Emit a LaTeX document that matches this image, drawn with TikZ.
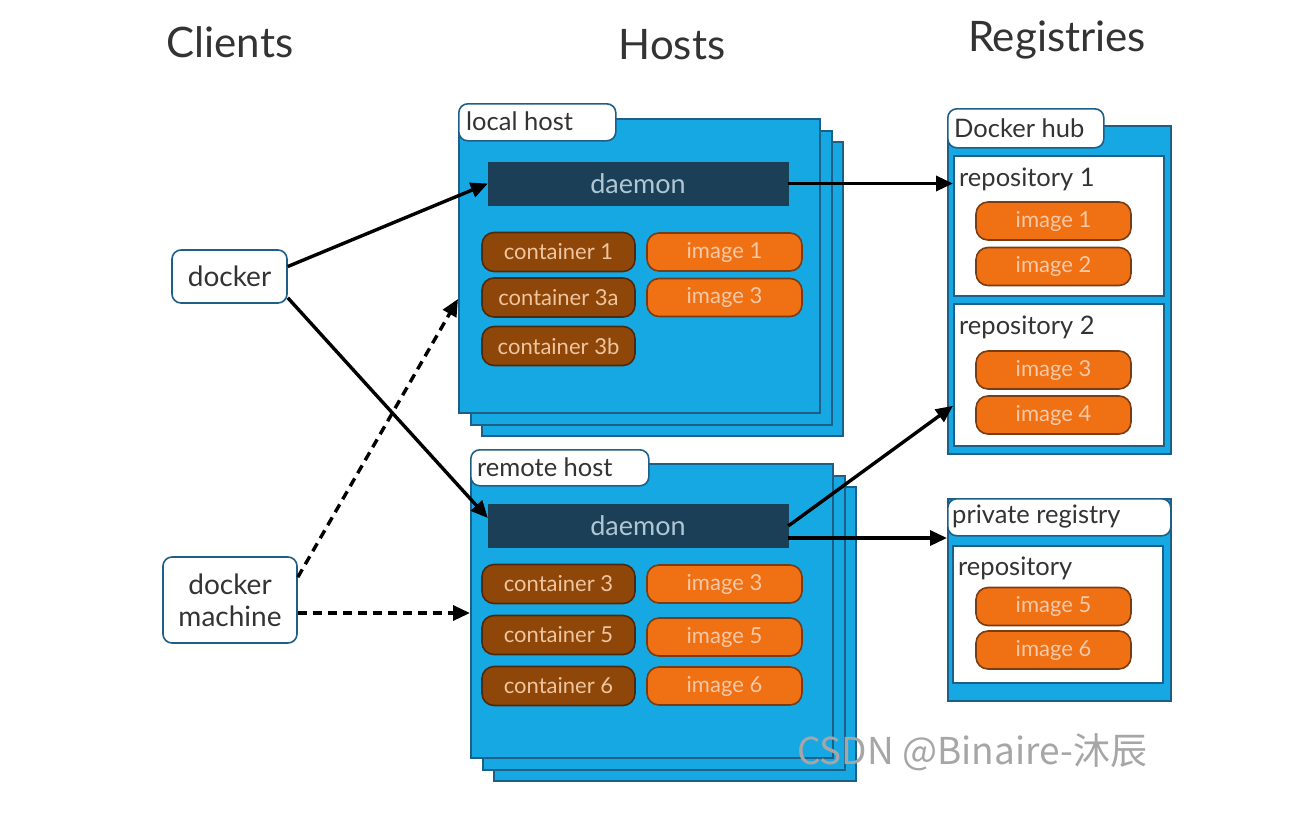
\documentclass[tikz,border=0pt]{standalone}
\usepackage{fontspec}
\setmainfont{Lato}
\newfontfamily\cjkfont{Noto Sans CJK SC}
\usetikzlibrary{arrows.meta}
\definecolor{hostblue}{HTML}{16A8E3}
\definecolor{hostedge}{HTML}{1D5F86}
\definecolor{daemonfill}{HTML}{1B3F56}
\definecolor{daemontext}{HTML}{AFC6D4}
\definecolor{contfill}{HTML}{8E4708}
\definecolor{contedge}{HTML}{4C2A10}
\definecolor{conttext}{HTML}{EFC5A0}
\definecolor{imgfill}{HTML}{F07014}
\definecolor{imgedge}{HTML}{7A3C12}
\definecolor{imgtext}{HTML}{F8C9A8}
\definecolor{labeltext}{HTML}{333333}
\tikzset{
  hostbox/.style={draw=hostedge, fill=hostblue, line width=2pt, anchor=north west, inner sep=0pt},
  tagbox/.style={draw=hostedge, fill=white, line width=1.6pt, rounded corners=9pt, anchor=north west, inner sep=0pt},
  daemonbox/.style={fill=daemonfill, draw=daemonfill, minimum width=300pt, minimum height=43pt, inner sep=0pt, text=daemontext, font=\fontsize{27}{30}\selectfont},
  contbox/.style={fill=contfill, draw=contedge, line width=1.6pt, rounded corners=12pt, minimum width=153pt, minimum height=39pt, inner sep=0pt, text=conttext, font=\fontsize{22}{24}\selectfont},
  imgbox/.style={fill=imgfill, draw=imgedge, line width=1.6pt, rounded corners=12pt, minimum width=155pt, minimum height=38pt, inner sep=0pt, text=imgtext, font=\fontsize{22}{24}\selectfont},
  repobox/.style={fill=white, draw=hostedge, line width=1.6pt, anchor=north west, inner sep=0pt},
  clientbox/.style={fill=white, draw=hostedge, line width=1.6pt, rounded corners=9pt, inner sep=0pt, align=center, text=labeltext, font=\fontsize{28}{32}\selectfont},
  title/.style={text=labeltext, font=\fontsize{42}{48}\selectfont},
  plain/.style={text=labeltext, anchor=west, inner sep=0pt, font=\fontsize{25.5}{28}\selectfont},
  arr/.style={line width=3.4pt, -{Triangle[length=17pt,width=15pt]}},
  darr/.style={arr, dash pattern=on 9pt off 6pt},
}
\begin{document}
\begin{tikzpicture}[x=1pt,y=-1pt]
\useasboundingbox (0,0) rectangle (1306,825);
\fill[white] (0,0) rectangle (1306,825);

% titles
\node[title] (tclients) at (230,42) {Clients};
\node[title] (thosts) at (672,45) {Hosts};
\node[title] (tregs) at (1057,40) {Registries};

% local host stack
\node[hostbox, minimum width=361pt, minimum height=294pt] (lh3) at (481,141) {};
\node[hostbox, minimum width=361pt, minimum height=294pt] (lh2) at (469.5,129.5) {};
\node[hostbox, minimum width=361pt, minimum height=294pt] (lh1) at (458,118) {};
\node[tagbox, minimum width=157pt, minimum height=37pt] (lhtag) at (458,103) {};
\node[plain] (lhtxt) at (466,121) {local host};
\node[daemonbox] (ld) at (638,183.5) {daemon};
\node[contbox] (c1) at (558.5,252) {container 1};
\node[contbox] (c3a) at (558.5,297.5) {container 3a};
\node[contbox] (c3b) at (558.5,346) {container 3b};
\node[imgbox] (li1) at (724.5,252) {image 1};
\node[imgbox] (li3) at (724.5,297.5) {image 3};

% remote host stack
\node[hostbox, minimum width=362pt, minimum height=294pt] (rh3) at (493,486) {};
\node[hostbox, minimum width=362pt, minimum height=294pt] (rh2) at (481.5,474.5) {};
\node[hostbox, minimum width=362pt, minimum height=294pt] (rh1) at (470,463) {};
\node[tagbox, minimum width=178pt, minimum height=36pt] (rhtag) at (470,449) {};
\node[plain] (rhtxt) at (477,467) {remote host};
\node[daemonbox] (rd) at (638,526) {daemon};
\node[contbox] (c3) at (558.5,584) {container 3};
\node[contbox] (c5) at (558.5,635) {container 5};
\node[contbox] (c6) at (558.5,686) {container 6};
\node[imgbox] (ri3) at (724.5,584) {image 3};
\node[imgbox] (ri5) at (724.5,637) {image 5};
\node[imgbox] (ri6) at (724.5,686) {image 6};

% Docker hub
\node[hostbox, minimum width=223pt, minimum height=328pt] (hub) at (947,125) {};
\node[tagbox, minimum width=156pt, minimum height=39pt] (hubtag) at (947,108) {};
\node[plain] (hubtxt) at (954,128) {Docker hub};
\node[repobox, minimum width=210pt, minimum height=140pt] (repo1) at (953,155) {};
\node[plain] (repo1txt) at (959,179) {repository 1};
\node[imgbox] (h1) at (1053.5,221) {image 1};
\node[imgbox] (h2) at (1053.5,266.5) {image 2};
\node[repobox, minimum width=210pt, minimum height=142pt] (repo2) at (953,303) {};
\node[plain] (repo2txt) at (959,327) {repository 2};
\node[imgbox] (h3) at (1053.5,370) {image 3};
\node[imgbox] (h4) at (1053.5,415) {image 4};

% private registry
\node[hostbox, minimum width=223pt, minimum height=202pt] (priv) at (947,498) {};
\node[tagbox, minimum width=223pt, minimum height=37pt] (privtag) at (947,498) {};
\node[plain] (privtxt) at (952,517) {private registry};
\node[repobox, minimum width=210pt, minimum height=137pt] (repo3) at (952,545) {};
\node[plain] (repo3txt) at (958,568) {repository};
\node[imgbox] (p5) at (1053.5,606.5) {image 5};
\node[imgbox] (p6) at (1053.5,650) {image 6};

% clients
\node[clientbox, minimum width=115pt, minimum height=53pt] (docker) at (229.5,276.5) {docker};
\node[clientbox, minimum width=134pt, minimum height=86pt] (dm) at (230,600) {docker\\machine};

% connectors
\draw[arr] ([yshift=10pt]docker.east) -- (ld.west);
\draw[arr] ([yshift=6pt]docker.south east) -- ([yshift=8pt]rd.west);
\draw[darr] ([yshift=-21pt]dm.north east) -- ([yshift=-33pt]lh1.west);
\draw[darr] ([yshift=-13pt]dm.east) -- ([yshift=-13pt]dm.east -| rh1.west);
\draw[arr] (ld.east) -- (ld.east -| repo1.west);
\draw[arr] (rd.east) -- ([yshift=-31pt]repo2.west);
\draw[arr] ([yshift=-12pt]rd.east) -- ([yshift=-12pt]rd.east -| priv.west);

% watermark
\node[anchor=west, inner sep=0pt, text=black!35, font=\cjkfont\fontsize{37}{40}\selectfont] (wm) at (797,752) {CSDN @Binaire-沐辰};
\end{tikzpicture}
\end{document}
